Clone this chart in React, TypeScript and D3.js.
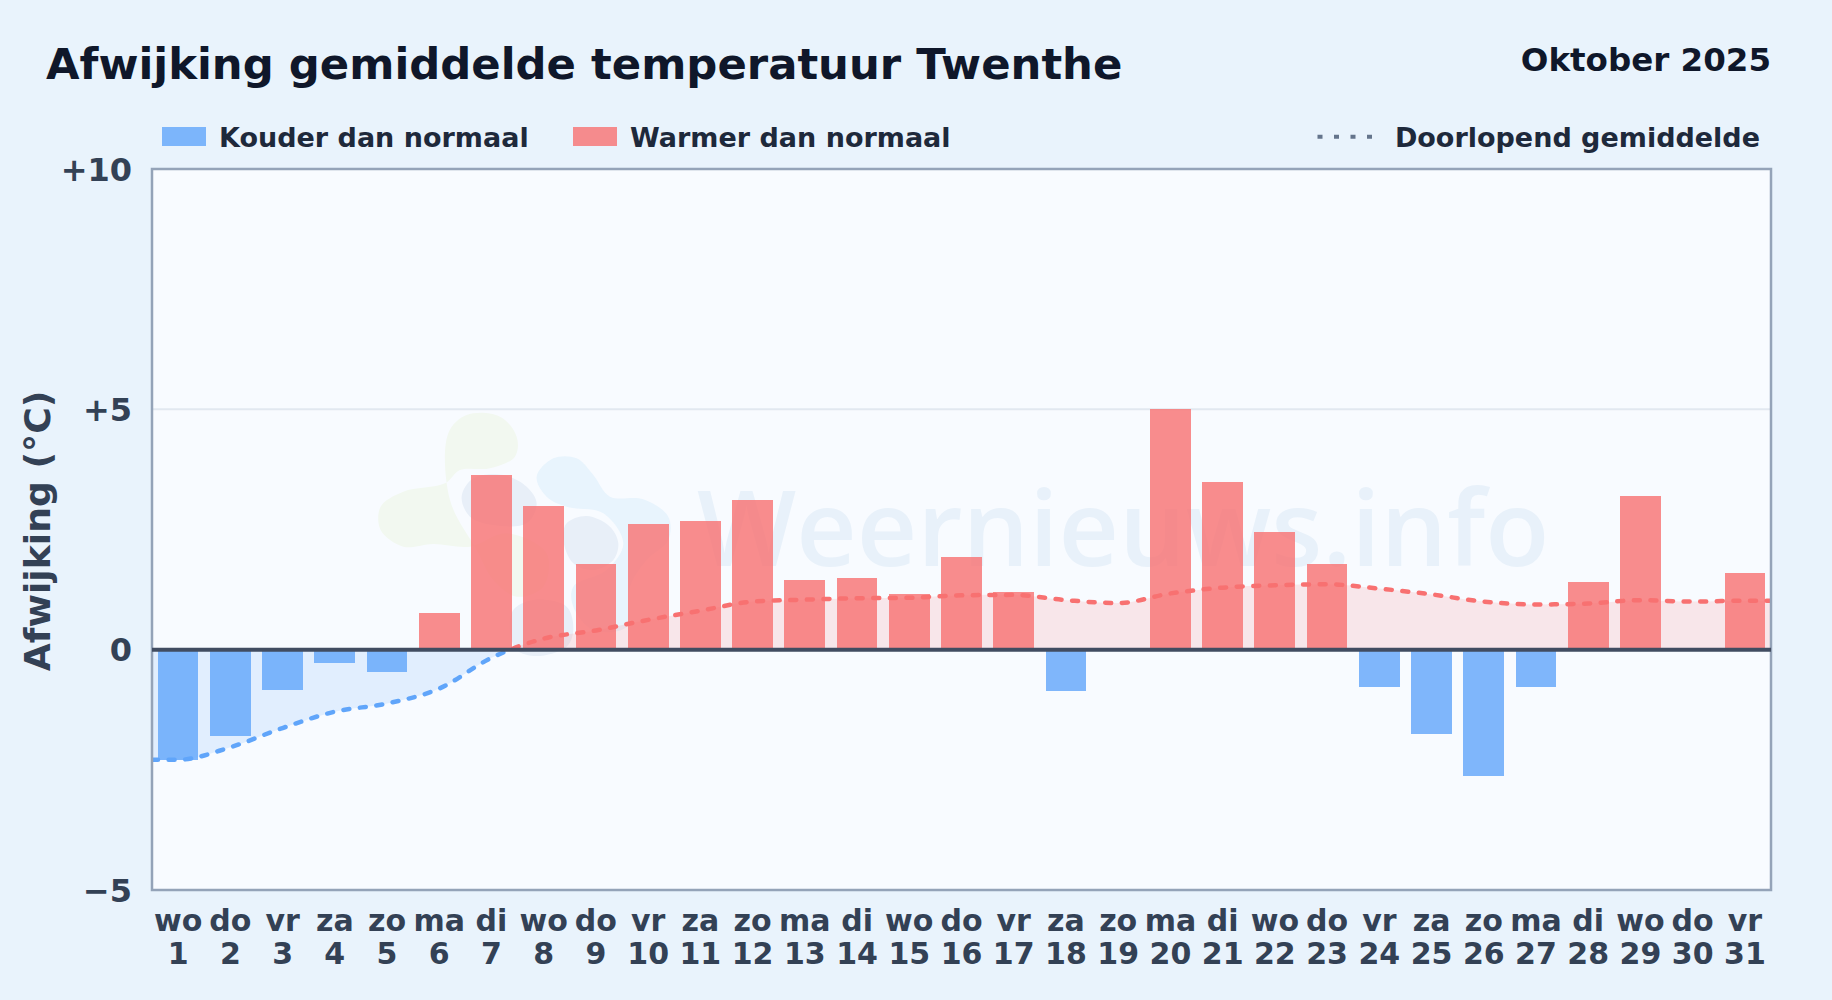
import * as d3 from 'd3';
import React, { useEffect } from 'react';

const days = d3.range(1, 32).map(String);
const weekdays = [
  'wo', 'do', 'vr', 'za', 'zo', 'ma', 'di', 'wo', 'do', 'vr', 'za', 'zo', 'ma', 'di', 'wo', 'do',
  'vr', 'za', 'zo', 'ma', 'di', 'wo', 'do', 'vr', 'za', 'zo', 'ma', 'di', 'wo', 'do', 'vr',
];
const deviation = [
  -2.29, -1.8, -0.84, -0.28, -0.47, 0.76, 3.63, 2.98, 1.78, 2.61, 2.67, 3.11, 1.45, 1.5, 1.16, 1.92,
  1.2, -0.85, 0, 5.0, 3.48, 2.44, 1.78, -0.77, -1.76, -2.62, -0.77, 1.41, 3.2, 0, 1.6,
];
const runningMean = [
  -2.29, -2.03, -1.63, -1.29, -1.12, -0.81, -0.17, 0.23, 0.4, 0.62, 0.81, 1.0, 1.04, 1.07, 1.08, 1.13,
  1.14, 1.03, 0.97, 1.17, 1.29, 1.34, 1.36, 1.27, 1.15, 1.0, 0.94, 0.96, 1.03, 1.0, 1.02,
];
const yTicks = [-5, 0, 5, 10];

// Faint logo behind the bars (decoration, not data)
const logoBlobs: { fill: string; pts: [number, number][] }[] = [
  {
    fill: '#f2f8f0',
    pts: [
      [265, 100], [320, 45], [420, 50], [470, 110], [465, 170], [390, 205], [300, 210], [255, 250],
      [130, 275], [62, 320], [62, 390], [130, 440], [220, 432], [330, 440], [440, 400], [560, 460],
      [550, 560], [470, 590], [400, 540], [350, 450], [270, 300],
    ],
  },
  {
    fill: '#e8f4fd',
    pts: [
      [530, 230], [580, 175], [650, 175], [700, 225], [750, 290], [850, 298], [925, 350], [925, 420],
      [860, 480], [810, 560], [800, 680], [700, 690], [640, 620], [640, 560], [740, 510], [790, 430],
      [730, 340], [620, 320], [560, 290],
    ],
  },
  {
    fill: '#e8eff8',
    pts: [[305, 290], [340, 235], [430, 225], [500, 260], [530, 310], [500, 370], [400, 375], [330, 350]],
  },
  {
    fill: '#e8eff8',
    pts: [[620, 370], [680, 348], [750, 380], [775, 430], [760, 480], [700, 510], [640, 490], [610, 420]],
  },
  {
    fill: '#e8eff8',
    pts: [[460, 630], [520, 600], [620, 620], [640, 690], [620, 740], [530, 768], [470, 750], [450, 690]],
  },
];

const FONT = '"DejaVu Sans", sans-serif';
const BLUE = '#60a5fa';
const RED = '#f87171';

export default function App() {
  const ref = React.useRef<SVGSVGElement>(null);

  useEffect(() => {
    if (!ref.current) return;
    const svg = d3.select(ref.current);
    svg.selectAll('*').remove();

    const left = 152;
    const right = 1771;
    const top = 169;
    const bottom = 890;

    const x = d3.scaleBand().domain(days).range([left, right]).paddingInner(0.22).paddingOuter(0.11);
    const y = d3.scaleLinear().domain([-5, 10]).range([bottom, top]);
    const cx = (d: string) => (x(d) as number) + x.bandwidth() / 2;

    svg
      .append('rect')
      .attr('width', 1832)
      .attr('height', 1000)
      .attr('fill', '#e9f3fc');
    svg
      .append('rect')
      .attr('x', left)
      .attr('y', top)
      .attr('width', right - left)
      .attr('height', bottom - top)
      .attr('fill', '#f8fbff');

    // Gridline
    svg
      .append('line')
      .attr('x1', left)
      .attr('x2', right)
      .attr('y1', y(5))
      .attr('y2', y(5))
      .attr('stroke', '#e2e8f0')
      .attr('stroke-width', 2);

    // Watermark
    const logo = svg.append('g').attr('transform', 'translate(360,400) scale(0.3333)');
    const blob = d3.line().curve(d3.curveCatmullRomClosed.alpha(0.5));
    logoBlobs.forEach(b => {
      logo.append('path').attr('d', blob(b.pts)).attr('fill', b.fill);
    });
    svg
      .append('text')
      .attr('x', 697)
      .attr('y', 566)
      .attr('font-family', '"Open Sans", sans-serif')
      .attr('font-weight', 600)
      .attr('font-size', 105)
      .attr('fill', '#e8f1fa')
      .text('Weernieuws.info');

    // Clips for the part of the running mean above and below zero
    const defs = svg.append('defs');
    defs
      .append('clipPath')
      .attr('id', 'above')
      .append('rect')
      .attr('x', left)
      .attr('y', top)
      .attr('width', right - left)
      .attr('height', y(0) - top);
    defs
      .append('clipPath')
      .attr('id', 'below')
      .append('rect')
      .attr('x', left)
      .attr('y', y(0))
      .attr('width', right - left)
      .attr('height', bottom - y(0));

    // Line runs from frame to frame, so repeat the ends at the edges
    const meanPoints: [number, number][] = [
      [left, runningMean[0]],
      ...days.map((d, i) => [cx(d), runningMean[i]] as [number, number]),
      [right, runningMean[runningMean.length - 1]],
    ];
    const area = d3
      .area<[number, number]>()
      .curve(d3.curveMonotoneX)
      .x(d => d[0])
      .y0(y(0))
      .y1(d => y(d[1]));
    const line = d3
      .line<[number, number]>()
      .curve(d3.curveMonotoneX)
      .x(d => d[0])
      .y(d => y(d[1]));

    [
      { clip: 'below', color: BLUE },
      { clip: 'above', color: RED },
    ].forEach(s => {
      svg
        .append('path')
        .datum(meanPoints)
        .attr('clip-path', `url(#${s.clip})`)
        .attr('d', area)
        .attr('fill', s.color)
        .attr('fill-opacity', 0.15);
    });

    // Bars
    svg
      .append('g')
      .selectAll('rect')
      .data(deviation)
      .enter()
      .append('rect')
      .attr('x', (d, i) => x(days[i]) as number)
      .attr('width', x.bandwidth())
      .attr('y', d => y(Math.max(d, 0)))
      .attr('height', d => Math.abs(y(d) - y(0)))
      .attr('fill', d => (d < 0 ? BLUE : RED))
      .attr('fill-opacity', 0.8)
      .attr('shape-rendering', 'crispEdges');

    [
      { clip: 'below', color: BLUE },
      { clip: 'above', color: RED },
    ].forEach(s => {
      svg
        .append('path')
        .datum(meanPoints)
        .attr('clip-path', `url(#${s.clip})`)
        .attr('d', line)
        .attr('fill', 'none')
        .attr('stroke', s.color)
        .attr('stroke-width', 4.5)
        .attr('stroke-linecap', 'round')
        .attr('stroke-dasharray', '6 10.6');
    });

    // Frame and zero line
    svg
      .append('rect')
      .attr('x', left)
      .attr('y', top)
      .attr('width', right - left)
      .attr('height', bottom - top)
      .attr('fill', 'none')
      .attr('stroke', '#94a3b8')
      .attr('stroke-width', 2.5);
    svg
      .append('line')
      .attr('x1', left)
      .attr('x2', right)
      .attr('y1', y(0))
      .attr('y2', y(0))
      .attr('stroke', '#414c61')
      .attr('stroke-width', 4);

    // Y axis
    const yAxis = svg
      .append('g')
      .attr('transform', `translate(${left},0)`)
      .call(
        d3
          .axisLeft(y)
          .tickValues(yTicks)
          .tickSize(0)
          .tickPadding(20)
          .tickFormat(d => (+d > 0 ? `+${d}` : +d < 0 ? `\u2212${Math.abs(+d)}` : '0'))
      );
    yAxis.select('.domain').remove();
    yAxis
      .selectAll('text')
      .attr('font-family', FONT)
      .attr('font-weight', 'bold')
      .attr('font-size', 32)
      .attr('fill', '#334155')
      .attr('dy', '0.35em');

    // X axis, weekday above day number
    const xWeekdays = svg
      .append('g')
      .attr('transform', `translate(0,${bottom})`)
      .call(
        d3
          .axisBottom(x)
          .tickSize(0)
          .tickFormat((d, i) => weekdays[i])
      );
    const xDays = svg
      .append('g')
      .attr('transform', `translate(0,${bottom + 33.5})`)
      .call(d3.axisBottom(x).tickSize(0));
    [xWeekdays, xDays].forEach(a => {
      a.select('.domain').remove();
      a.selectAll('text')
        .attr('font-family', FONT)
        .attr('font-weight', 'bold')
        .attr('font-size', 30)
        .attr('fill', '#334155')
        .attr('dy', 0)
        .attr('y', 40.7);
    });

    const label = (
      t: string,
      lx: number,
      ly: number,
      size: number,
      fill: string,
      anchor = 'start'
    ) =>
      svg
        .append('text')
        .attr('x', lx)
        .attr('y', ly)
        .attr('font-family', FONT)
        .attr('font-weight', 'bold')
        .attr('font-size', size)
        .attr('fill', fill)
        .attr('text-anchor', anchor)
        .text(t);

    label('Afwijking gemiddelde temperatuur Twenthe', 46, 79, 43.35, '#0f172a');
    label('Oktober 2025', 1771, 71, 32.5, '#0f172a', 'end');

    label('Afwijking (°C)', 0, 0, 36.2, '#334155', 'middle').attr(
      'transform',
      'translate(50,531) rotate(-90)'
    );

    // Legend
    const swatches = [
      { at: 162, color: BLUE, text: 'Kouder dan normaal' },
      { at: 573, color: RED, text: 'Warmer dan normaal' },
    ];
    swatches.forEach(s => {
      svg
        .append('rect')
        .attr('x', s.at)
        .attr('y', 127)
        .attr('width', 44)
        .attr('height', 19)
        .attr('fill', s.color)
        .attr('fill-opacity', 0.8);
      label(s.text, s.at + 57, 146.5, 27, '#1e293b');
    });
    svg
      .append('line')
      .attr('x1', 1317.5)
      .attr('x2', 1373)
      .attr('y1', 136.7)
      .attr('y2', 136.7)
      .attr('stroke', '#64748b')
      .attr('stroke-width', 4)
      .attr('stroke-dasharray', '5 11.5');
    label('Doorlopend gemiddelde', 1760, 146.5, 27, '#1e293b', 'end');
  }, []);

  return (
    <svg
      ref={ref}
      width={1832}
      height={1000}
      style={{ position: 'absolute', left: 0, top: 0, display: 'block' }}
    />
  );
}
